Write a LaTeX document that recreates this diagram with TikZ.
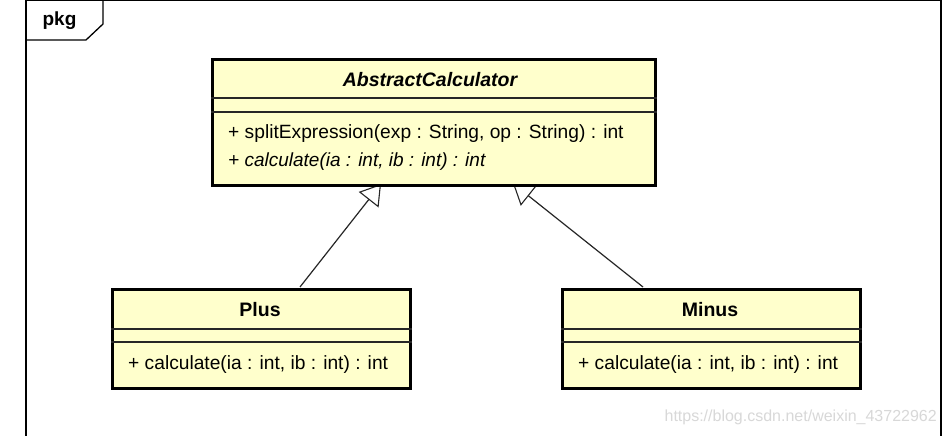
\documentclass[tikz,border=0pt]{standalone}
\usepackage{fontspec}
\setmainfont{Liberation Sans}
\usetikzlibrary{arrows.meta}
\definecolor{clsfill}{HTML}{FFFFCC}
\definecolor{wm}{HTML}{D8D8D8}
\begin{document}
\begin{tikzpicture}[x=1pt,y=-1pt,
  cls/.style={draw=black,line width=3pt,fill=clsfill,rectangle,inner sep=0pt,anchor=north west},
  sep/.style={draw=black!85,line width=1.3pt},
  title/.style={font=\fontsize{19.5}{22}\selectfont\bfseries},
  meth/.style={font=\fontsize{19.2}{22}\selectfont,anchor=west,inner sep=0pt},
  gen/.style={draw=black!85,line width=1.2pt,-{Triangle[open,length=20pt,width=25pt,line width=1.1pt]}},
  frame/.style={draw=black,line width=1.3pt}]
\useasboundingbox (0,0) rectangle (946,436);
\fill[white] (0,0) rectangle (946,436);
% package frame
\draw[frame] (26,436) -- (26,0.7) -- (941,0.7) -- (941,436);
\draw[frame] (26,40) -- (86,40) -- (103,24) -- (103,0.7);
\node[font=\fontsize{19}{21}\selectfont\bfseries,inner sep=0pt] (pkg) at (59.5,21) {pkg};
% generalizations (drawn beneath the boxes)
\coordinate (p1) at (300,287);
\coordinate (p2) at (381,184);
\coordinate (m1) at (643,287);
\coordinate (m2) at (513,183.5);
\draw[gen] (p1) -- (p2);
\draw[gen] (m1) -- (m2);
% AbstractCalculator
\node[cls,minimum width=443pt,minimum height=126pt] (abs) at (211,58) {};
\draw[sep] (abs.west |- 0,98) -- (abs.east |- 0,98);
\draw[sep] (abs.west |- 0,112) -- (abs.east |- 0,112);
\node[title,font=\fontsize{19.5}{22}\selectfont\bfseries\itshape] (absT) at (430,80) {AbstractCalculator};
\node[meth] (absM1) at (228,134) {+ splitExpression(exp : String, op : String) : int};
\node[meth,font=\fontsize{19}{22}\selectfont\itshape] (absM2) at (228,162) {+ calculate(ia : int, ib : int) : int};
% Plus
\node[cls,minimum width=298pt,minimum height=99pt] (plus) at (111,288) {};
\draw[sep] (plus.west |- 0,329) -- (plus.east |- 0,329);
\draw[sep] (plus.west |- 0,342) -- (plus.east |- 0,342);
\node[title] (plusT) at (260,310) {Plus};
\node[meth] (plusM) at (128,365) {+ calculate(ia : int, ib : int) : int};
% Minus
\node[cls,minimum width=298pt,minimum height=99pt] (minus) at (561,288) {};
\draw[sep] (minus.west |- 0,329) -- (minus.east |- 0,329);
\draw[sep] (minus.west |- 0,342) -- (minus.east |- 0,342);
\node[title] (minusT) at (710,310) {Minus};
\node[meth] (minusM) at (578,365) {+ calculate(ia : int, ib : int) : int};
% watermark
\node[font=\fontsize{16}{18}\selectfont,text=wm,anchor=east,inner sep=0pt] (wmk) at (937,417) {https://blog.csdn.net/weixin\_43722962};
\end{tikzpicture}
\end{document}
